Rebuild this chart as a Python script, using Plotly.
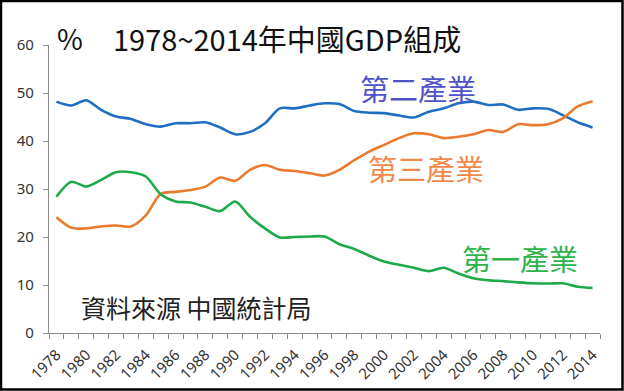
import plotly.graph_objects as go

years = list(range(1978, 2015))
primary = [28.4, 31.5, 30.5, 31.9, 33.5, 33.5, 32.6, 28.9, 27.4, 27.2,
           26.3, 25.4, 27.4, 24.2, 21.8, 19.9, 20.0, 20.1, 20.1, 18.5,
           17.5, 16.1, 14.9, 14.2, 13.6, 12.9, 13.6, 12.4, 11.4, 11.0,
           10.8, 10.55, 10.35, 10.3, 10.35, 9.65, 9.4]
secondary = [48.2, 47.4, 48.5, 46.5, 45.1, 44.6, 43.5, 43.0, 43.7, 43.7,
             43.9, 42.8, 41.4, 41.9, 43.7, 46.8, 46.8, 47.4, 47.85, 47.7,
             46.25, 45.9, 45.8, 45.3, 44.9, 46.1, 46.8, 47.85, 48.2, 47.5,
             47.6, 46.5, 46.8, 46.7, 45.4, 43.9, 42.8]
tertiary = [24.1, 21.9, 21.8, 22.2, 22.4, 22.2, 24.5, 29.0, 29.4, 29.8,
            30.5, 32.4, 31.7, 34.0, 35.0, 34.0, 33.75, 33.3, 32.8, 34.0,
            36.0, 37.8, 39.2, 40.6, 41.6, 41.4, 40.6, 40.9, 41.4, 42.3,
            41.9, 43.5, 43.3, 43.5, 44.7, 47.2, 48.3]
tick_years = list(range(1978, 2015, 2))
tick_labels = [str(y) for y in tick_years]
y_ticks = [0, 10, 20, 30, 40, 50, 60]

W, H = 624, 391
L, R, T, B = 49, 24, 45, 58
PW, PH = W - L - R, H - T - B


def px(x):
    return (x - L) / PW


def py(y):
    return (H - B - y) / PH


CJK = "Noto Sans CJK TC, Noto Sans, sans-serif"

fig = go.Figure()
fig.add_trace(go.Scatter(x=years, y=secondary, mode="lines",
                         line=dict(color="#1F6EC2", width=2.6, shape="spline", smoothing=0.8)))
fig.add_trace(go.Scatter(x=years, y=tertiary, mode="lines",
                         line=dict(color="#EA7A2E", width=2.6, shape="spline", smoothing=0.8)))
fig.add_trace(go.Scatter(x=years, y=primary, mode="lines",
                         line=dict(color="#1FAA4A", width=2.6, shape="spline", smoothing=0.8)))

anns = [
    dict(text="%", x=px(55), y=py(38), xanchor="left", font=dict(size=28, color="#111111", family=CJK)),
    dict(text="1978~2014年中國GDP組成", x=px(111), y=py(38), xanchor="left",
         font=dict(size=29, color="#111111", family=CJK)),
    dict(text="第二產業", x=px(418), y=py(88), xanchor="center", font=dict(size=29, color="#4F52C9", family=CJK)),
    dict(text="第三產業", x=px(426), y=py(168), xanchor="center", font=dict(size=29, color="#F08A4B", family=CJK)),
    dict(text="第一產業", x=px(520), y=py(258), xanchor="center", font=dict(size=29, color="#2DB34A", family=CJK)),
    dict(text="資料來源 中國統計局", x=px(79), y=py(307), xanchor="left",
         font=dict(size=25, color="#222222", family=CJK)),
]
for a in anns:
    a.update(xref="paper", yref="paper", yanchor="middle", showarrow=False)
fig.update_layout(annotations=anns)

fig.add_shape(type="rect", xref="paper", yref="paper",
              x0=px(1), x1=px(622.5), y0=py(389.5), y1=py(1),
              line=dict(color="black", width=2.5), fillcolor="rgba(0,0,0,0)")

fig.update_layout(
    width=W, height=H,
    margin=dict(l=L, r=R, t=T, b=B, autoexpand=False),
    paper_bgcolor="white", plot_bgcolor="white",
    showlegend=False,
    xaxis=dict(range=[1977.5, 2014.5], tickvals=tick_years, ticktext=tick_labels,
               tickangle=-45, ticks="outside", ticklen=0, tickcolor="white",
               ticklabelstandoff=6,
               showline=True, linecolor="#8C8C8C", linewidth=1.3, showgrid=False, zeroline=False,
               tickfont=dict(size=15, color="#333333", family="Noto Sans, sans-serif"),
               minor=dict(ticks="outside", ticklen=5, tickcolor="#8C8C8C", tick0=1977.5, dtick=1,
                          showgrid=False)),
    yaxis=dict(range=[0, 60], tickvals=y_ticks, ticks="outside", ticklen=5, tickcolor="#8C8C8C",
               showline=True, linecolor="#8C8C8C", linewidth=1.3, showgrid=False, zeroline=False,
               ticklabelstandoff=6,
               tickfont=dict(size=15, color="#333333", family="Noto Sans, sans-serif")),
)

fig.write_html("out.html", config={"displayModeBar": False},
               post_script="document.body.style.margin='0';document.body.style.overflow='hidden';")
